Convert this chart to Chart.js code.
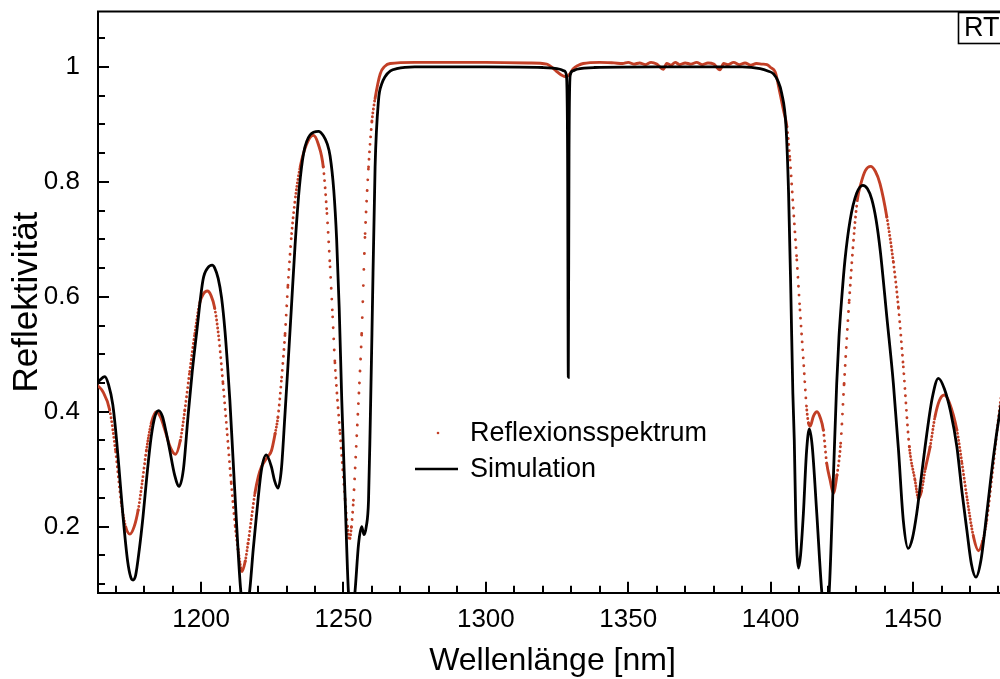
<!DOCTYPE html>
<html>
<head>
<meta charset="utf-8">
<script src="https://cdn.jsdelivr.net/npm/chart.js@4.4.1/dist/chart.umd.min.js"></script>
<style>
  html, body { margin: 0; padding: 0; background: #fff; overflow: hidden; }
  #wrap { width: 1000px; height: 679px; overflow: hidden; position: relative; }
  canvas { display: block; }
</style>
</head>
<body>
<div id="wrap"><canvas id="c" width="1010" height="679"></canvas></div>
<script>
// ---------- data ----------
const simX = [1163.8,1166.2,1167.5,1169.0,1170.3,1171.5,1172.6,1174.2,1175.3,1176.1,1177.0,1178.3,1179.6,1181.0,1182.5,1183.8,1185.1,1186.4,1187.7,1189.0,1190.7,1192.3,1193.8,1195.4,1196.9,1198.4,1200.7,1202.3,1203.9,1204.8,1206.0,1207.2,1208.4,1209.3,1210.1,1211.2,1212.4,1213.9,1215.5,1217.1,1218.3,1219.4,1221.2,1222.9,1224.7,1225.8,1227.0,1228.2,1229.4,1230.5,1231.7,1233.0,1234.5,1236.0,1238.3,1241.2,1243.0,1244.3,1245.3,1246.6,1247.6,1248.5,1249.4,1250.6,1251.7,1252.9,1254.1,1255.3,1256.4,1257.2,1258.0,1258.8,1259.4,1260.0,1261.1,1262.3,1263.4,1264.6,1266.5,1268.7,1275,1300,1320,1326,1327.5,1328.3,1328.7,1328.95,1329.2,1329.6,1330.5,1332,1338,1360,1390,1396.3,1399,1401.0,1402.6,1403.9,1405.4,1406.3,1407.1,1407.8,1408.3,1408.8,1409.3,1409.8,1410.5,1411.5,1412.6,1413.6,1414.6,1416.2,1417.9,1419.2,1420.6,1422.0,1423.2,1424.0,1425.0,1426.1,1427.9,1430.2,1432.4,1434.0,1435.5,1437.0,1438.5,1440.8,1443.1,1444.9,1446.6,1448.3,1449.8,1451.3,1453.0,1454.8,1456.8,1458.9,1461.0,1463.2,1465.4,1467.2,1468.9,1470.5,1472.1,1473.8,1475.9,1478.2,1480.5,1483.0,1490.0];
const simY = [0.452,0.461,0.447,0.412,0.352,0.282,0.217,0.140,0.112,0.107,0.115,0.160,0.217,0.290,0.357,0.392,0.402,0.392,0.365,0.333,0.290,0.270,0.300,0.391,0.470,0.536,0.630,0.650,0.655,0.650,0.632,0.598,0.540,0.480,0.420,0.320,0.210,0.090,0.040,0.090,0.160,0.217,0.299,0.325,0.304,0.280,0.267,0.300,0.391,0.480,0.580,0.690,0.790,0.850,0.882,0.888,0.880,0.866,0.845,0.785,0.700,0.580,0.420,0.246,0.090,0.030,0.090,0.170,0.200,0.186,0.200,0.246,0.380,0.536,0.826,0.942,0.970,0.983,0.993,0.997,1.000,1.000,0.999,0.996,0.993,0.985,0.850,0.460,0.850,0.985,0.993,0.996,0.999,1.000,1.000,0.997,0.993,0.988,0.975,0.954,0.896,0.780,0.606,0.432,0.351,0.220,0.150,0.128,0.150,0.223,0.330,0.370,0.340,0.223,0.090,0.030,0.090,0.281,0.449,0.530,0.600,0.664,0.733,0.780,0.794,0.788,0.770,0.735,0.680,0.565,0.449,0.333,0.210,0.162,0.180,0.223,0.290,0.360,0.425,0.458,0.440,0.400,0.339,0.260,0.194,0.135,0.112,0.140,0.223,0.320,0.400,0.470,0.640];

const measX = [1163.8,1165.5,1167.9,1170.0,1172.0,1173.5,1175.0,1176.5,1177.9,1179.4,1180.8,1182.5,1184.3,1185.8,1187.3,1189.2,1191.0,1192.7,1194.3,1196.0,1197.8,1199.5,1200.8,1202.2,1203.5,1204.8,1206.3,1207.7,1209.2,1210.6,1212.0,1213.0,1214.4,1215.5,1216.5,1217.7,1218.9,1220.1,1221.2,1222.5,1223.5,1224.7,1226.0,1227.0,1228.3,1229.5,1230.5,1231.8,1233.3,1234.8,1237.0,1239.4,1241.2,1242.9,1244.2,1245.3,1246.2,1247.0,1248.8,1250.6,1251.4,1252.1,1252.8,1253.5,1254.7,1255.6,1256.4,1257.6,1258.8,1260.0,1261.1,1262.9,1264.5,1266.4,1275,1300,1315,1321.4,1323.0,1324.9,1326.5,1328.2,1329.5,1330.7,1332.5,1334.2,1340,1345,1348,1350,1352,1354,1356,1358,1360,1362.3,1363.5,1365,1366.5,1368,1370,1372,1374,1376,1378,1380,1382.2,1383.5,1385,1387,1389,1391,1393,1395,1397,1398.7,1400.0,1401.6,1403.3,1404.5,1405.7,1406.8,1408.0,1409.2,1410.3,1411.5,1412.7,1413.3,1413.9,1415.0,1416.3,1417.4,1418.5,1419.7,1420.9,1422.0,1423.3,1424.6,1425.8,1427.6,1429.3,1430.5,1431.7,1433.3,1435.1,1436.8,1438.4,1440.8,1443.1,1444.9,1446.6,1448.7,1450.7,1451.9,1453.0,1454.3,1456.0,1457.7,1459.3,1461.0,1462.8,1465.4,1467.2,1468.9,1471.2,1473.0,1474.5,1475.9,1478.0,1480.5,1483.0,1490.0];
const measY = [0.445,0.435,0.403,0.330,0.241,0.200,0.187,0.200,0.229,0.280,0.333,0.380,0.400,0.390,0.368,0.338,0.326,0.350,0.403,0.470,0.536,0.589,0.605,0.610,0.602,0.580,0.525,0.449,0.360,0.275,0.200,0.160,0.122,0.140,0.171,0.215,0.258,0.287,0.304,0.315,0.322,0.332,0.362,0.391,0.460,0.536,0.620,0.710,0.780,0.826,0.865,0.881,0.865,0.826,0.745,0.652,0.565,0.485,0.362,0.246,0.200,0.177,0.200,0.246,0.362,0.450,0.536,0.710,0.826,0.906,0.945,0.988,1.001,1.006,1.008,1.008,1.007,1.005,1.000,0.992,0.986,0.983,0.988,0.997,1.003,1.006,1.008,1.007,1.006,1.008,1.005,1.007,1.004,1.008,1.005,0.996,1.006,1.003,1.008,1.004,1.007,1.005,1.008,1.004,1.007,1.005,0.995,1.006,1.004,1.008,1.004,1.007,1.003,1.006,1.005,1.004,0.999,0.991,0.954,0.925,0.896,0.838,0.751,0.664,0.577,0.490,0.403,0.380,0.375,0.392,0.400,0.390,0.368,0.310,0.281,0.258,0.290,0.345,0.449,0.594,0.710,0.770,0.797,0.820,0.827,0.818,0.797,0.739,0.660,0.580,0.478,0.339,0.281,0.249,0.262,0.300,0.339,0.391,0.420,0.429,0.415,0.368,0.310,0.252,0.183,0.158,0.175,0.212,0.300,0.409,0.500,0.700];

const xTickLabels = [1200, 1250, 1300, 1350, 1400, 1450];
const yTickLabels = [0.2, 0.4, 0.6, 0.8, 1];
const seriesNames = ['Reflexionsspektrum', 'Simulation'];
const xTitle = 'Wellenlänge [nm]';
const yTitle = 'Reflektivität';
const cornerLabel = 'RT';

// ---------- styling ----------
const RED = '#c23f26';
const FONT = '"Liberation Sans", Arial, Helvetica, sans-serif';
const DOT_STEP = 0.55;

function dashFor(ctx) {
  const dx = Math.abs(ctx.p1.x - ctx.p0.x), dy = Math.abs(ctx.p1.y - ctx.p0.y);
  const s = dx < 1e-6 ? 50 : dy / dx;
  const spacing = DOT_STEP * Math.sqrt(1 + s * s);
  if (spacing < 2.9) return [];
  return [0.001, Math.round(spacing * 4) / 4];
}

const simPts = simX.map((x, i) => ({x, y: simY[i]}));
const measPts = measX.map((x, i) => ({x, y: measY[i]}));

const decor = {
  id: 'decor',
  afterDraw(chart) {
    const {ctx, chartArea: a, scales: {x, y}} = chart;
    ctx.save();
    ctx.strokeStyle = '#000';
    ctx.lineWidth = 2;
    // top frame line
    ctx.beginPath();
    ctx.moveTo(a.left - 1, a.top);
    ctx.lineTo(a.right, a.top);
    ctx.stroke();
    // inward ticks x
    ctx.beginPath();
    for (let v = 1170; v <= 1480; v += 10) {
      const px = Math.round(x.getPixelForValue(v));
      const len = (v % 50 === 0) ? 11 : 7;
      ctx.moveTo(px, a.bottom);
      ctx.lineTo(px, a.bottom - len);
    }
    // inward ticks y
    for (let k = 2; k <= 21; k++) {
      const v = k * 0.05;
      const py = Math.round(y.getPixelForValue(v));
      const len = (k % 4 === 0) ? 11 : 7;
      ctx.moveTo(a.left, py);
      ctx.lineTo(a.left + len, py);
    }
    ctx.stroke();

    // legend
    ctx.fillStyle = RED;
    ctx.beginPath();
    ctx.arc(438, 433, 1.3, 0, Math.PI * 2);
    ctx.fill();
    ctx.strokeStyle = '#000';
    ctx.lineWidth = 2.5;
    ctx.beginPath();
    ctx.moveTo(415, 469);
    ctx.lineTo(458, 469);
    ctx.stroke();
    ctx.fillStyle = '#000';
    ctx.font = '27px ' + FONT;
    ctx.textBaseline = 'middle';
    ctx.textAlign = 'left';
    ctx.fillText(seriesNames[0], 470, 434);
    ctx.fillText(seriesNames[1], 470, 470);

    // corner label box
    ctx.lineWidth = 1.6;
    ctx.strokeRect(958.5, 12.5, 60, 31);
    ctx.font = '27px ' + FONT;
    ctx.fillText(cornerLabel, 964, 29);
    ctx.restore();
  }
};

new Chart(document.getElementById('c'), {
  type: 'line',
  data: {
    datasets: [
      { label: seriesNames[1], data: simPts, borderColor: '#000', borderWidth: 2.8,
        pointRadius: 0, cubicInterpolationMode: 'monotone', fill: false },
      { label: seriesNames[0], data: measPts, borderColor: RED, borderWidth: 2.9,
        borderCapStyle: 'round', pointRadius: 0, cubicInterpolationMode: 'monotone', fill: false,
        segment: { borderDash: dashFor } }
    ]
  },
  options: {
    responsive: false,
    animation: false,
    devicePixelRatio: 1,
    layout: { padding: { left: 0, right: 3, top: 11.5, bottom: 0 } },
    plugins: { legend: { display: false }, tooltip: { enabled: false } },
    scales: {
      x: {
        type: 'linear', min: 1163.8, max: 1483.0,
        grid: { display: false },
        border: { display: true, color: '#000', width: 2 },
        afterBuildTicks: s => { s.ticks = xTickLabels.map(v => ({value: v})); },
        afterFit: s => { s.height = 679 - 592.7; s.paddingLeft = 0; s.paddingRight = 0; },
        ticks: { color: '#000', font: { family: FONT, size: 26 }, padding: 4, maxRotation: 0, autoSkip: false,
                 callback: v => String(v) },
        title: { display: true, text: xTitle, color: '#000', font: { family: FONT, size: 32, lineHeight: 1 }, padding: { top: 0, bottom: 2 } }
      },
      y: {
        type: 'linear', min: 0.085, max: 1.0965,
        grid: { display: false },
        border: { display: true, color: '#000', width: 2 },
        afterBuildTicks: s => { s.ticks = yTickLabels.map(v => ({value: v})); },
        afterFit: s => { s.width = 98; s.paddingTop = 0; s.paddingBottom = 0; },
        ticks: { color: '#000', font: { family: FONT, size: 26 }, padding: 10,
                 callback: v => (v === 1 ? '1' : v.toFixed(1)) },
        title: { display: true, text: yTitle, color: '#000', font: { family: FONT, size: 35, lineHeight: 1 }, padding: { top: 10, bottom: 0 } }
      }
    }
  },
  plugins: [decor]
});
</script>
</body>
</html>
